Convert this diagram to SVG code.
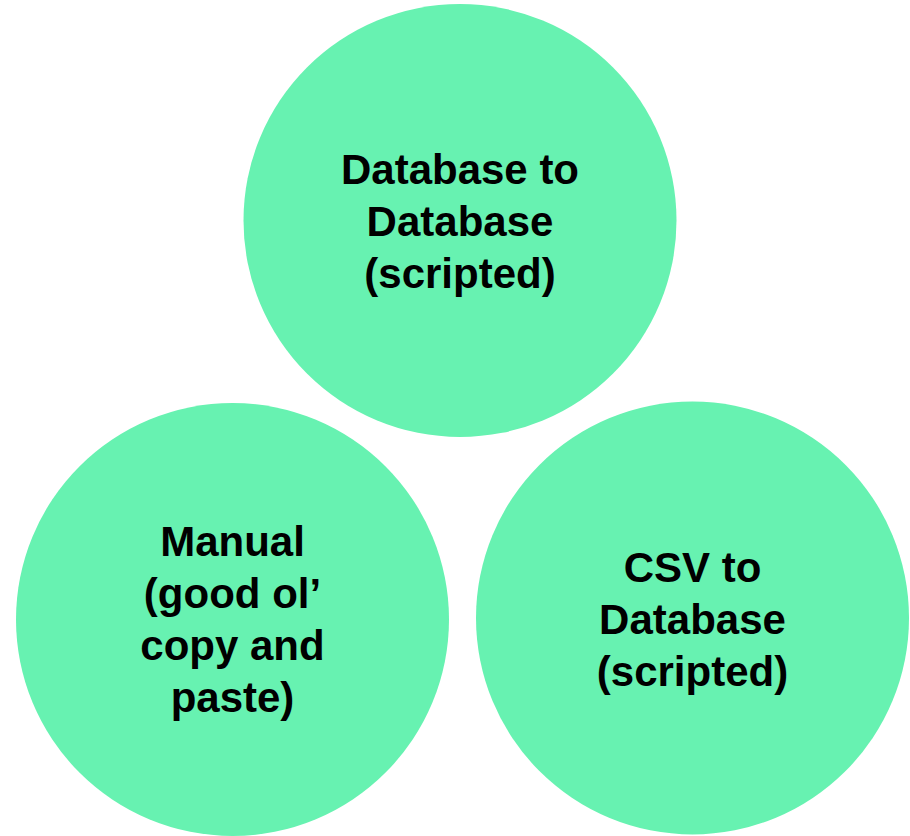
<svg xmlns="http://www.w3.org/2000/svg" width="910" height="836" viewBox="0 0 910 836">
<style>
.c{fill:#67F2B1;}
.t{font-family:"Liberation Sans",Arial,sans-serif;font-weight:bold;font-size:42px;fill:#000;text-anchor:middle;}
</style>
<rect width="910" height="836" fill="#fff"/>
<g id="top">
<circle class="c" cx="460" cy="220.5" r="216.5"/>
<text class="t" x="460" y="184">Database to</text>
<text class="t" x="460" y="236">Database</text>
<text class="t" x="460" y="288">(scripted)</text>
</g>
<g id="left">
<circle class="c" cx="232.5" cy="619.5" r="216.5"/>
<text class="t" x="232.5" y="556">Manual</text>
<text class="t" x="232.5" y="608">(good ol’</text>
<text class="t" x="232.5" y="660">copy and</text>
<text class="t" x="232.5" y="712">paste)</text>
</g>
<g id="right">
<circle class="c" cx="692.5" cy="618" r="216.5"/>
<text class="t" x="692.5" y="582">CSV to</text>
<text class="t" x="692.5" y="634">Database</text>
<text class="t" x="692.5" y="686">(scripted)</text>
</g>
<g id="connectors"/>
</svg>
